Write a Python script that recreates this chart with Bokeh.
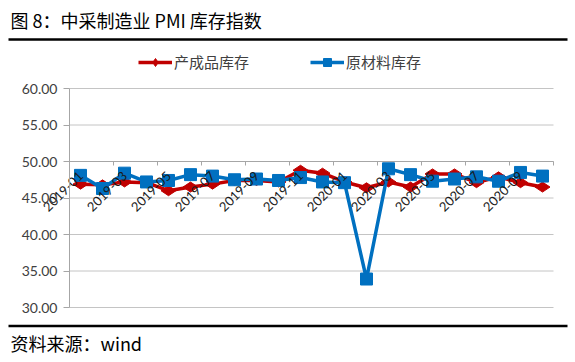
from math import pi
from bokeh.plotting import figure
from bokeh.models import (Range1d, LinearAxis, FixedTicker, NumeralTickFormatter,
                          Legend, LegendItem, Label)
from bokeh.embed import file_html
from bokeh.resources import INLINE

# ---------------- data ----------------
months = ["2019-01", "2019-02", "2019-03", "2019-04", "2019-05", "2019-06",
          "2019-07", "2019-08", "2019-09", "2019-10", "2019-11", "2019-12",
          "2020-01", "2020-02", "2020-03", "2020-04", "2020-05", "2020-06",
          "2020-07", "2020-08", "2020-09", "2020-10"]
finished_goods = [46.9, 46.8, 47.2, 47.1, 46.0, 46.5, 46.9, 47.4, 47.4, 47.2, 48.8, 48.4,
                  47.2, 46.4, 47.2, 46.5, 48.3, 48.3, 47.1, 47.9, 47.1, 46.5]
raw_materials = [48.1, 46.3, 48.4, 47.2, 47.4, 48.2, 48.0, 47.5, 47.6, 47.4, 47.8, 47.2,
                 47.1, 33.9, 49.0, 48.2, 47.3, 47.6, 47.9, 47.3, 48.5, 48.0]
y_ticks = [30, 35, 40, 45, 50, 55, 60]
title_text = "图 8：中采制造业 PMI 库存指数"
source_text = "资料来源：wind"
series_names = ["产成品库存", "原材料库存"]

CJK = "Noto Sans CJK SC"
RED = "#C00000"
BLUE = "#0070C0"
GRID = "#c4c4c4"
AXIS = "#a6a6a6"
W, H = 575, 362

# page-pixel layout of the plot area (category width 22px, 7.3px per index point)
CAT0_PX, CAT_W = 80.0, 22.0
Y60_PX, PX_PER_UNIT = 88.0, 219.0 / 30.0


def dx(px):
    return (px - CAT0_PX) / CAT_W


def dy(py):
    return 60 - (py - Y60_PX) / PX_PER_UNIT


n = len(months)
xs = list(range(n))
p = figure(width=W, height=H, x_range=Range1d(dx(0), dx(W)), y_range=Range1d(dy(H), dy(0)),
           output_backend="svg", toolbar_location=None,
           x_axis_location=None, y_axis_location=None, min_border=0)
p.outline_line_color = None
p.grid.visible = False
p.background_fill_color = "white"
p.border_fill_color = "white"

# horizontal gridlines from the tick values
p.segment(x0=[-0.5] * len(y_ticks), x1=[n - 0.5] * len(y_ticks), y0=y_ticks, y1=y_ticks,
          line_color=GRID, line_width=1, level="underlay")

# y axis at the left edge of the plot area
ya = LinearAxis(fixed_location=-0.5, ticker=FixedTicker(ticks=y_ticks), bounds=(30, 60))
ya.formatter = NumeralTickFormatter(format="0.00")
ya.axis_line_color = AXIS
ya.major_tick_line_color = AXIS
ya.major_tick_out = 6
ya.major_tick_in = 0
ya.minor_tick_line_color = None
ya.major_label_standoff = 6
ya.major_label_text_font = "Lato"
ya.major_label_text_font_size = "14px"
ya.major_label_text_color = "#404040"
p.add_layout(ya, "left")

# x axis crossing at 50: tick marks between categories
ax_ticks = LinearAxis(fixed_location=50, bounds=(-0.5, n - 0.5),
                      ticker=FixedTicker(ticks=[i - 0.5 for i in range(0, n + 1, 2)]))
ax_ticks.axis_line_color = AXIS
ax_ticks.major_tick_line_color = AXIS
ax_ticks.major_tick_out = 4
ax_ticks.major_tick_in = 0
ax_ticks.minor_tick_line_color = None
ax_ticks.major_label_text_color = None
p.add_layout(ax_ticks, "below")

# x axis labels every other month
ax_labels = LinearAxis(fixed_location=50, ticker=FixedTicker(ticks=list(range(0, n, 2))))
ax_labels.major_label_overrides = {i: months[i] for i in range(0, n, 2)}
ax_labels.axis_line_color = None
ax_labels.major_tick_line_color = None
ax_labels.minor_tick_line_color = None
ax_labels.major_label_orientation = pi / 4
ax_labels.major_label_standoff = 6
ax_labels.major_label_text_font = "Lato"
ax_labels.major_label_text_font_size = "13px"
ax_labels.major_label_text_color = "#1a1a1a"
p.add_layout(ax_labels, "below")

r1l = p.line(xs, finished_goods, line_color=RED, line_width=3.5)
r1m = p.scatter(xs, finished_goods, marker="diamond", angle=pi / 2, size=15,
                fill_color=RED, line_color=RED)
r2l = p.line(xs, raw_materials, line_color=BLUE, line_width=3.5)
r2m = p.scatter(xs, raw_materials, marker="square", size=12,
                fill_color=BLUE, line_color=BLUE)

legend = Legend(items=[LegendItem(label=series_names[0], renderers=[r1l, r1m]),
                       LegendItem(label=series_names[1], renderers=[r2l, r2m])],
                location=(138, H - 72), orientation="horizontal",
                padding=0, margin=0, spacing=61,
                glyph_width=34, glyph_height=20, label_height=20, label_standoff=2,
                label_text_font=CJK, label_text_font_size="15px", label_text_color="#404040",
                border_line_color=None, background_fill_alpha=0)
p.add_layout(legend, "center")

# title, rules and source note
p.add_layout(Label(x=dx(10), y=dy(19), text=title_text, text_baseline="middle",
                   text_font=CJK, text_font_size="18px", text_color="black"))
p.segment(x0=[dx(8), dx(8)], x1=[dx(567), dx(567)], y0=[dy(39), dy(325.5)], y1=[dy(39), dy(325.5)],
          line_color="black", line_width=2.5)
p.add_layout(Label(x=dx(10), y=dy(342), text=source_text, text_baseline="middle",
                   text_font=CJK, text_font_size="18px", text_color="black"))

open("out.html", "w").write(file_html(p, INLINE))
